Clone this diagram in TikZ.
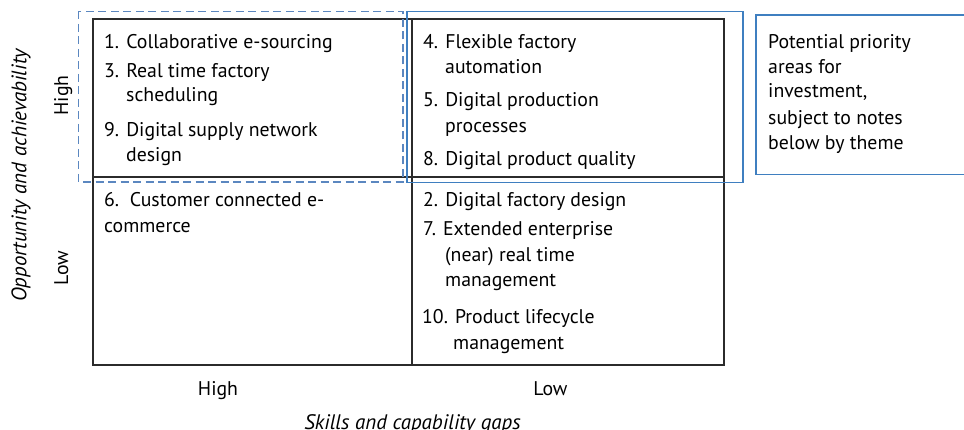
\documentclass[tikz,border=0pt]{standalone}
\usepackage{fontspec}
\setmainfont{PT Sans}
\definecolor{gridc}{HTML}{2B2B2B}
\definecolor{dashblue}{HTML}{5B87C0}
\definecolor{boxblue}{HTML}{3F7FC0}
\begin{document}
\begin{tikzpicture}[x=1pt,y=-1pt,
  txt/.style={anchor=base west, inner sep=0pt, font=\fontsize{19.8}{23}\selectfont, text=black},
  axl/.style={anchor=base, inner sep=0pt, font=\fontsize{19.8}{23}\selectfont, text=black},
  axt/.style={anchor=base, inner sep=0pt, font=\fontsize{21}{24}\selectfont\itshape, text=black},
  gridline/.style={draw=gridc, line width=1.5pt},
  dashbox/.style={draw=dashblue, line width=1.2pt, dash pattern=on 8pt off 4.5pt},
  bluebox/.style={draw=boxblue, line width=1.2pt}]
\useasboundingbox (0,0) rectangle (964,430);
% grid
\draw[gridline] (93,19) rectangle (724,365);
\draw[gridline] (93,177) -- (724,177);
\draw[gridline] (412,19) -- (412,365);
% highlight boxes
\draw[dashbox] (78.5,11.5) rectangle (403,182);
\draw[bluebox] (407,11.5) rectangle (743,182.7);
\draw[bluebox] (756,15) rectangle (975,174.5);
% top-left cell
\node[txt] (t1) at (104,49) {1. Collaborative e-sourcing};
\node[txt] (t3a) at (104,77.3) {3. Real time factory};
\node[txt] (t3b) at (126,101.7) {scheduling};
\node[txt] (t9a) at (104,136.7) {9. Digital supply network};
\node[txt] (t9b) at (126,161.7) {design};
% top-right cell
\node[txt] (t4a) at (423,48.3) {4. Flexible factory};
\node[txt] (t4b) at (445,73.3) {automation};
\node[txt] (t5a) at (423,106.7) {5. Digital production};
\node[txt] (t5b) at (445,132.3) {processes};
\node[txt] (t8) at (423,165.7) {8. Digital product quality};
% bottom-left cell
\node[txt] (t6a) at (104,206.7) {6.\ \ Customer connected e-};
\node[txt] (t6b) at (104,232.3) {commerce};
% bottom-right cell
\node[txt] (t2) at (423,206.7) {2. Digital factory design};
\node[txt] (t7a) at (423,235.7) {7. Extended enterprise};
\node[txt] (t7b) at (445,261.7) {(near) real time};
\node[txt] (t7c) at (445,286.7) {management};
\node[txt] (t10a) at (422,324) {10. Product lifecycle};
\node[txt] (t10b) at (453,349) {management};
% note
\node[txt] (n1) at (768,49) {Potential priority};
\node[txt] (n2) at (768,73.3) {areas for};
\node[txt] (n3) at (768,97.7) {investment,};
\node[txt] (n4) at (768,124.3) {subject to notes};
\node[txt] (n5) at (768,150) {below by theme};
% axes labels
\node[axl] (xh) at (218,395) {High};
\node[axl] (xl) at (550.5,395) {Low};
\node[axt] (xt) at (412.5,429) {Skills and capability gaps};
\node[axl, rotate=90] (yh) at (68,95.5) {High};
\node[axl, rotate=90] (yl) at (68,268) {Low};
\node[axt, rotate=90] (yt) at (26.5,175.5) {Opportunity and achievability};
\end{tikzpicture}
\end{document}
